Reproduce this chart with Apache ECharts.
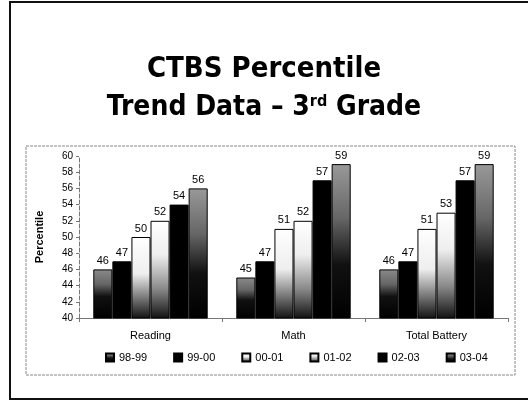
<!DOCTYPE html>
<html>
<head>
<meta charset="utf-8">
<script src="https://cdn.jsdelivr.net/npm/echarts@6/dist/echarts.min.js"></script>
<style>html,body{margin:0;padding:0;background:#fff}#c{width:528px;height:402px}</style>
</head>
<body>
<div id="c"></div>
<script>
var categories = ['Reading', 'Math', 'Total Battery'];
var seriesNames = ['98-99', '99-00', '00-01', '01-02', '02-03', '03-04'];
var s9899 = [46, 45, 46];
var s9900 = [47, 47, 47];
var s0001 = [50, 51, 51];
var s0102 = [52, 52, 53];
var s0203 = [54, 57, 57];
var s0304 = [56, 59, 59];
var yTicks = [40, 42, 44, 46, 48, 50, 52, 54, 56, 58, 60];

function grad(stops) {
  return new echarts.graphic.LinearGradient(0, 0, 0, 1, stops.map(function (s) { return { offset: s[0], color: s[1] }; }));
}
var fills = [
  grad([[0, '#8a8a8a'], [0.3, '#666'], [0.55, '#111'], [1, '#000']]),
  grad([[0, '#000'], [1, '#000']]),
  grad([[0, '#fff'], [0.45, '#eee'], [0.75, '#777'], [1, '#111']]),
  grad([[0, '#fff'], [0.35, '#eee'], [0.7, '#888'], [1, '#111']]),
  grad([[0, '#000'], [1, '#000']]),
  grad([[0, '#999'], [0.35, '#666'], [0.65, '#111'], [1, '#000']])
];
var dataSets = [s9899, s9900, s0001, s0102, s0203, s0304];

var series = seriesNames.map(function (n, i) {
  return {
    name: n,
    type: 'bar',
    data: dataSets[i],
    barGap: '0%',
    barCategoryGap: '20%',
    itemStyle: { color: fills[i], borderColor: '#000', borderWidth: 1 },
    label: { show: true, position: 'top', distance: 3, color: '#000', fontFamily: 'Liberation Sans', fontSize: 11 }
  };
});

var chart = echarts.init(document.getElementById('c'));
chart.setOption({
  animation: false,
  backgroundColor: '#fff',
  title: [{
    text: 'CTBS Percentile',
    left: 'center', top: 50,
    textStyle: { fontFamily: 'DejaVu Sans Condensed', fontWeight: 'bold', fontSize: 29, color: '#000' }
  }, {
    text: '{a|Trend Data – 3}{s|rd}{a| Grade}',
    left: 'center', top: 89,
    textStyle: {
      rich: {
        a: { fontFamily: 'DejaVu Sans Condensed', fontWeight: 'bold', fontSize: 28, color: '#000' },
        s: { fontFamily: 'DejaVu Sans Condensed', fontWeight: 'bold', fontSize: 16, color: '#000', verticalAlign: 'top', padding: [0, 0, 10, 0] }
      }
    }
  }],
  graphic: [
    { type: 'rect', shape: { x: 10, y: 2, width: 530, height: 397 }, style: { fill: 'none', stroke: '#111', lineWidth: 2 }, silent: true },
    { type: 'rect', shape: { x: 26, y: 146, width: 489, height: 229 }, style: { fill: 'none', stroke: '#888', lineWidth: 1, lineDash: [3, 1] }, silent: true }
  ],
  legend: {
    data: seriesNames,
    top: 347,
    left: 100,
    width: 420,
    itemWidth: 8, itemHeight: 8, itemGap: 26,
    icon: 'rect',
    textStyle: { fontFamily: 'Liberation Sans', fontSize: 11, color: '#000' }
  },
  grid: { left: 79, right: 20, top: 156, bottom: 84 },
  xAxis: {
    type: 'category',
    data: categories,
    axisLine: { lineStyle: { color: '#777', width: 1 } },
    axisTick: { show: true, length: 4, lineStyle: { color: '#777' } },
    axisLabel: { fontFamily: 'Liberation Sans', fontSize: 11, color: '#000', margin: 12 }
  },
  yAxis: {
    type: 'value',
    min: 40, max: 60, interval: 2,
    name: 'Percentile',
    nameLocation: 'middle',
    nameGap: 34,
    nameTextStyle: { fontFamily: 'Liberation Sans', fontWeight: 'bold', fontSize: 11, color: '#000' },
    axisLine: { show: true, lineStyle: { color: '#777', type: 'dashed' } },
    axisTick: { show: true, length: 3, lineStyle: { color: '#777' } },
    splitLine: { show: false },
    axisLabel: {
      fontFamily: 'Liberation Sans', fontSize: 10, color: '#000', margin: 6,
      formatter: function (v) { return yTicks.indexOf(v) >= 0 ? String(v) : ''; }
    }
  },
  series: series
});
</script>
</body>
</html>
